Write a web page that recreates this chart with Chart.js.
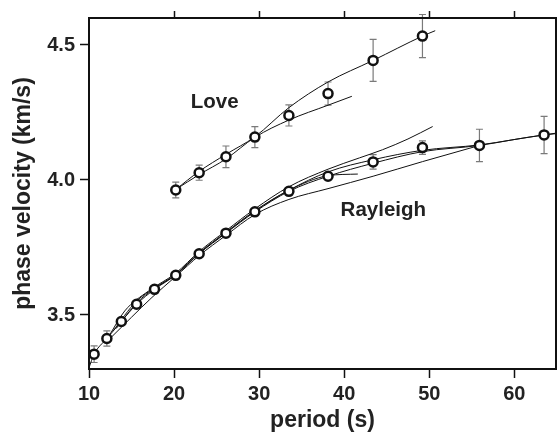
<!DOCTYPE html>
<html>
<head>
<meta charset="utf-8">
<script src="https://cdn.jsdelivr.net/npm/chart.js@4"></script>
<style>
  body { margin: 0; background: #fff; }
  canvas { display: block; }
</style>
</head>
<body>
<canvas id="chart" width="557" height="436"></canvas>
<script>
const X_TICKS = [10, 20, 30, 40, 50, 60];
const TOP_TICKS = [20, 30, 40, 50, 60];
const Y_TICKS = [3.5, 4.0, 4.5];

// measured dispersion points with error bars
const LOVE_PERIOD = [20.2, 22.95, 26.1, 29.5, 33.5, 38.1, 43.4, 49.2];
const LOVE_VEL = [3.963, 4.027, 4.086, 4.159, 4.239, 4.32, 4.443, 4.533];
const LOVE_ERR = [0.029, 0.028, 0.04, 0.039, 0.039, 0.043, 0.078, 0.08];

const RAY_PERIOD = [10.6, 12.1, 13.8, 15.6, 17.7, 20.2, 22.95, 26.1, 29.5, 33.5, 38.1, 43.4, 49.2, 55.9, 63.5];
const RAY_VEL = [3.355, 3.413, 3.476, 3.54, 3.595, 3.647, 3.727, 3.803, 3.882, 3.958, 4.014, 4.067, 4.12, 4.128, 4.167];
const RAY_ERR = [0.031, 0.028, 0.01, 0.01, 0.01, 0.01, 0.01, 0.01, 0.01, 0.01, 0.01, 0.027, 0.025, 0.06, 0.069];

// model curves
const LOVE_A_X = [20.2, 22.95, 26.1, 29.5, 33.5, 38.1, 43.4, 49.2, 50.7];
const LOVE_A_Y = [3.965, 4.032, 4.095, 4.16, 4.268, 4.363, 4.443, 4.533, 4.553];
const LOVE_B_X = [20.2, 22.95, 26.1, 29.5, 33.5, 38.1, 40.9];
const LOVE_B_Y = [3.965, 4.02, 4.078, 4.158, 4.222, 4.277, 4.31];

const RAY_1_X = [10, 10.6, 12.1, 13.8, 15.6, 17.7, 20.2, 22.95, 26.1, 29.5, 33.5, 38.1, 43.4, 49.2, 55.9, 60, 63.5, 65];
const RAY_1_Y = [3.305, 3.355, 3.413, 3.476, 3.54, 3.595, 3.648, 3.727, 3.803, 3.882, 3.958, 4.014, 4.062, 4.105, 4.128, 4.15, 4.167, 4.174];
const RAY_2_X = [12.4, 14.2, 17.0, 20.2, 22.95, 26.1, 29.5, 33.5, 38.1, 41.8, 44.5, 47.5, 50.4];
const RAY_2_Y = [3.425, 3.515, 3.589, 3.655, 3.735, 3.812, 3.893, 3.975, 4.04, 4.082, 4.112, 4.152, 4.198];
const RAY_3_X = [12.6, 17.4, 20.2, 22.95, 26.1, 29.5, 33.5, 38.1, 43.4, 49.2, 55.9];
const RAY_3_Y = [3.417, 3.565, 3.643, 3.72, 3.795, 3.872, 3.928, 3.968, 4.014, 4.068, 4.128];
const RAY_4_X = [12.8, 15.6, 17.7, 20.2, 22.95, 26.1, 29.5, 33.5, 38.1, 41.6];
const RAY_4_Y = [3.44, 3.552, 3.6, 3.65, 3.73, 3.806, 3.886, 3.962, 4.016, 4.022];
const RAY_5_X = [13.2, 15.6, 17.7, 20.2, 22.95, 26.1, 29.5, 33.5, 38.1, 43.4, 49.2, 55.9, 63.5, 65];
const RAY_5_Y = [3.45, 3.545, 3.598, 3.65, 3.729, 3.806, 3.885, 3.962, 4.03, 4.075, 4.11, 4.13, 4.167, 4.172];

const LABEL_TEXT = ['Love', 'Rayleigh'];
const LABEL_X = [24.77, 44.6];
const LABEL_Y = [4.265, 3.867];

const FONT = 'Liberation Sans, Arial, Helvetica, sans-serif';

function pts(xs, ys) {
    return xs.map((x, i) => ({ x, y: ys[i] }));
}

function curve(xs, ys) {
    return {
        type: 'line',
        data: pts(xs, ys),
        borderColor: '#111',
        borderWidth: 1,
        pointRadius: 0,
        fill: false,
        cubicInterpolationMode: 'monotone',
        order: 2
    };
}

function markers(xs, ys, errs) {
    return {
        type: 'scatter',
        data: pts(xs, ys),
        errors: errs,
        pointStyle: 'circle',
        pointRadius: 4.5,
        borderWidth: 2.5,
        borderColor: '#111',
        backgroundColor: '#fff',
        order: 0
    };
}

const errorBars = {
    id: 'errorBars',
    beforeDatasetsDraw(chart) {
        const { ctx, scales: { x, y } } = chart;
        ctx.save();
        ctx.strokeStyle = '#7a7a7a';
        ctx.lineWidth = 1.2;
        chart.data.datasets.forEach(ds => {
            if (!ds.errors) return;
            ds.data.forEach((p, i) => {
                const px = x.getPixelForValue(p.x);
                const top = y.getPixelForValue(p.y + ds.errors[i]);
                const bot = y.getPixelForValue(p.y - ds.errors[i]);
                ctx.beginPath();
                ctx.moveTo(px, top); ctx.lineTo(px, bot);
                ctx.moveTo(px - 3.5, top); ctx.lineTo(px + 3.5, top);
                ctx.moveTo(px - 3.5, bot); ctx.lineTo(px + 3.5, bot);
                ctx.stroke();
            });
        });
        ctx.restore();
    }
};

const frameAndLabels = {
    id: 'frameAndLabels',
    afterDraw(chart) {
        const { ctx, chartArea: a, scales: { x, y } } = chart;
        ctx.save();
        ctx.strokeStyle = '#111';
        ctx.lineWidth = 2;
        ctx.strokeRect(a.left, a.top, a.right - a.left, a.bottom - a.top);
        ctx.fillStyle = '#222';
        ctx.font = 'bold 20.5px ' + FONT;
        ctx.textAlign = 'center';
        ctx.textBaseline = 'alphabetic';
        LABEL_TEXT.forEach((t, i) => {
            ctx.fillText(t, x.getPixelForValue(LABEL_X[i]), y.getPixelForValue(LABEL_Y[i]));
        });
        ctx.restore();
    }
};

const tickFont = { family: FONT, size: 20, weight: 'bold' };
const titleFont = { family: FONT, size: 23, weight: 'bold', lineHeight: 1 };

function noPad(s) {
    s.paddingLeft = 0;
    s.paddingRight = 0;
    s.paddingTop = 0;
    s.paddingBottom = 0;
}

new Chart(document.getElementById('chart'), {
    type: 'scatter',
    data: {
        datasets: [
            curve(LOVE_A_X, LOVE_A_Y),
            curve(LOVE_B_X, LOVE_B_Y),
            curve(RAY_1_X, RAY_1_Y),
            curve(RAY_2_X, RAY_2_Y),
            curve(RAY_3_X, RAY_3_Y),
            curve(RAY_4_X, RAY_4_Y),
            curve(RAY_5_X, RAY_5_Y),
            markers(LOVE_PERIOD, LOVE_VEL, LOVE_ERR),
            markers(RAY_PERIOD, RAY_VEL, RAY_ERR)
        ]
    },
    options: {
        responsive: false,
        animation: false,
        layout: { autoPadding: false, padding: { right: 1, top: 0, left: 0, bottom: 0 } },
        plugins: { legend: { display: false }, tooltip: { enabled: false } },
        scales: {
            x: {
                type: 'linear',
                position: 'bottom',
                min: 10,
                max: 64.9,
                afterBuildTicks: s => { s.ticks = X_TICKS.map(v => ({ value: v })); },
                afterFit: s => { s.height = 67; noPad(s); },
                ticks: { color: '#222', font: tickFont, padding: 4, maxRotation: 0 },
                grid: { drawOnChartArea: false, tickLength: 9, tickWidth: 1.5, tickColor: '#111' },
                border: { display: false },
                title: { display: true, text: 'period (s)', color: '#222', font: titleFont, padding: { top: 0, bottom: 3.5 } }
            },
            x2: {
                type: 'linear',
                position: 'top',
                min: 10,
                max: 64.9,
                afterBuildTicks: s => { s.ticks = TOP_TICKS.map(v => ({ value: v })); },
                afterFit: s => { s.height = 18; noPad(s); },
                ticks: { display: false },
                grid: { drawOnChartArea: false, tickLength: 7, tickWidth: 1.5, tickColor: '#111' },
                border: { display: false }
            },
            y: {
                type: 'linear',
                position: 'left',
                min: 3.3,
                max: 4.6,
                afterBuildTicks: s => { s.ticks = Y_TICKS.map(v => ({ value: v })); },
                afterFit: s => { s.width = 89; noPad(s); },
                ticks: { color: '#222', font: tickFont, padding: 5, callback: v => v.toFixed(1) },
                grid: { drawOnChartArea: false, tickLength: 9, tickWidth: 1.5, tickColor: '#111' },
                border: { display: false },
                title: { display: true, text: 'phase velocity (km/s)', color: '#222', font: titleFont, padding: { top: 12, bottom: 0 } }
            }
        }
    },
    plugins: [errorBars, frameAndLabels]
});
</script>
</body>
</html>
